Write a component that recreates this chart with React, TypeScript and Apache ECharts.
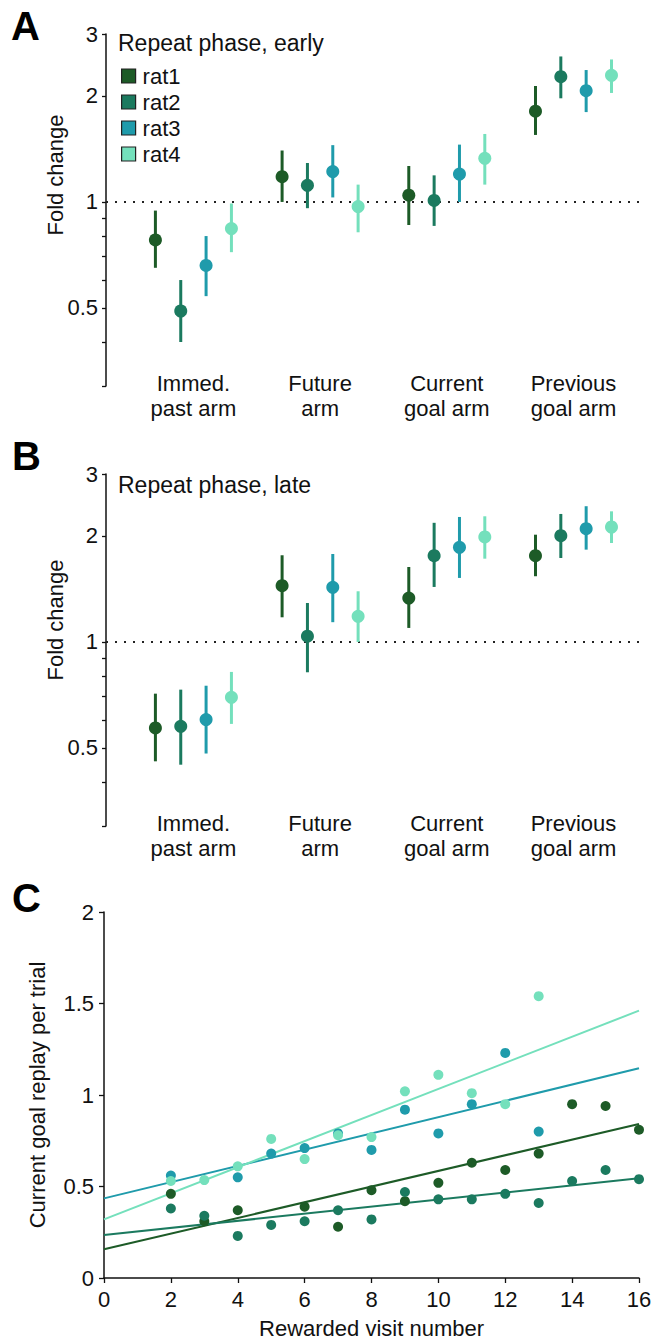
import React, { useEffect, useRef } from 'react';
import * as echarts from 'echarts';

// ---------- data ----------
const rats = ['rat1', 'rat2', 'rat3', 'rat4'];
const ratColors = ['#1d5b27', '#1b7a5f', '#1f9bab', '#74e0bc'];
const armCategories = ['Immed.\npast arm', 'Future\narm', 'Current\ngoal arm', 'Previous\ngoal arm'];
const foldMajorTicks = [0.5, 1, 2, 3];
const foldAllTicks = [0.3, 0.4, 0.5, 0.6, 0.7, 0.8, 0.9, 1, 2, 3];

// Panel A: Repeat phase, early (rows: rat1..rat4, cols: arms)
const earlyMean = [
  [0.78, 1.18, 1.045, 1.81],
  [0.49, 1.115, 1.01, 2.27],
  [0.66, 1.22, 1.2, 2.07],
  [0.84, 0.97, 1.33, 2.29],
];
const earlyLow = [
  [0.65, 1.0, 0.86, 1.55],
  [0.4, 0.96, 0.855, 1.97],
  [0.54, 1.03, 1.0, 1.8],
  [0.72, 0.82, 1.12, 2.04],
];
const earlyHigh = [
  [0.945, 1.4, 1.265, 2.135],
  [0.6, 1.29, 1.19, 2.59],
  [0.8, 1.45, 1.455, 2.37],
  [0.99, 1.12, 1.56, 2.54],
];

// Panel B: Repeat phase, late
const lateMean = [
  [0.57, 1.445, 1.333, 1.758],
  [0.576, 1.038, 1.758, 2.004],
  [0.602, 1.43, 1.857, 2.098],
  [0.696, 1.183, 1.987, 2.121],
];
const lateLow = [
  [0.458, 1.175, 1.096, 1.537],
  [0.448, 0.82, 1.433, 1.732],
  [0.482, 1.138, 1.52, 1.829],
  [0.585, 1.0, 1.724, 1.91],
];
const lateHigh = [
  [0.713, 1.763, 1.633, 2.017],
  [0.732, 1.29, 2.18, 2.31],
  [0.751, 1.778, 2.265, 2.43],
  [0.822, 1.393, 2.275, 2.35],
];

// Panel C: current goal replay per trial vs rewarded visit number
const rat1Visits = [2, 3, 4, 6, 7, 8, 9, 10, 11, 12, 13, 14, 15, 16];
const rat1Replay = [0.46, 0.31, 0.37, 0.39, 0.28, 0.48, 0.42, 0.52, 0.63, 0.59, 0.68, 0.95, 0.94, 0.81];
const rat2Visits = [2, 3, 4, 5, 6, 7, 8, 9, 10, 11, 12, 13, 14, 15, 16];
const rat2Replay = [0.38, 0.34, 0.23, 0.29, 0.31, 0.37, 0.32, 0.47, 0.43, 0.43, 0.46, 0.41, 0.53, 0.59, 0.54];
const rat3Visits = [2, 4, 5, 6, 7, 8, 9, 10, 11, 12, 13];
const rat3Replay = [0.56, 0.55, 0.68, 0.71, 0.79, 0.7, 0.92, 0.79, 0.95, 1.23, 0.8];
const rat4Visits = [2, 3, 4, 5, 6, 7, 8, 9, 10, 11, 12, 13];
const rat4Replay = [0.53, 0.535, 0.61, 0.76, 0.65, 0.78, 0.77, 1.02, 1.11, 1.01, 0.95, 1.54];
const visitsByRat = [rat1Visits, rat2Visits, rat3Visits, rat4Visits];
const replayByRat = [rat1Replay, rat2Replay, rat3Replay, rat4Replay];
const fitX = [0, 16];
const fitStart = [0.157, 0.235, 0.435, 0.32];
const fitEnd = [0.842, 0.545, 1.146, 1.461];

// ---------- layout / style ----------
const FONT = 'Liberation Sans, Arial, Helvetica, sans-serif';
const INK = '#111';
const FS = 22;
const ratOffsets = [-0.3, -0.1, 0.1, 0.3];

function foldYAxis(gridIndex: number) {
  return {
    gridIndex,
    type: 'log',
    logBase: 10,
    min: 0.3,
    max: 3,
    axisLine: { show: true, onZero: false, lineStyle: { color: INK, width: 1.5 } },
    axisTick: { show: true, length: 4, customValues: foldAllTicks, lineStyle: { color: INK, width: 1.3 } },
    minorTick: { show: false },
    splitLine: { show: false },
    axisLabel: {
      customValues: foldMajorTicks,
      formatter: (v: number) => String(v),
      fontSize: FS,
      color: INK,
      fontFamily: FONT,
      margin: 8,
    },
  };
}

function armXAxis(gridIndex: number) {
  return {
    gridIndex,
    type: 'value',
    min: -0.69,
    max: 3.525,
    axisLine: { show: false, onZero: false },
    axisTick: { show: false },
    splitLine: { show: false },
    axisLabel: {
      customValues: [0, 1, 2, 3],
      formatter: (v: number) => armCategories[Math.round(v)],
      fontSize: FS,
      lineHeight: 25,
      color: INK,
      fontFamily: FONT,
      margin: -15,
    },
  };
}

function foldSeries(idx: number, mean: number[][], low: number[][], high: number[][]) {
  const out: any[] = [];
  rats.forEach((rat, r) => {
    const pts = mean[r].map((m, a) => [a + ratOffsets[r], m]);
    const bars = mean[r].map((_m, a) => [a + ratOffsets[r], low[r][a], high[r][a]]);
    out.push({
      type: 'scatter',
      name: rat,
      xAxisIndex: idx,
      yAxisIndex: idx,
      data: pts,
      symbolSize: 13,
      itemStyle: { color: ratColors[r], opacity: 1 },
      z: 4,
      markLine:
        r === 0
          ? {
              silent: true,
              symbol: ['none', 'none'],
              label: { show: false },
              lineStyle: { color: '#222', type: [2, 7], width: 2 },
              data: [{ yAxis: 1 }],
              z: 1,
            }
          : undefined,
    });
    out.push({
      type: 'custom',
      name: rat,
      xAxisIndex: idx,
      yAxisIndex: idx,
      data: bars,
      encode: { x: 0, y: [1, 2] },
      itemStyle: { color: ratColors[r] },
      z: 3,
      renderItem: (_params: any, api: any) => {
        const x = api.value(0);
        const lo = api.coord([x, api.value(1)]);
        const hi = api.coord([x, api.value(2)]);
        return {
          type: 'line',
          shape: { x1: lo[0], y1: lo[1], x2: hi[0], y2: hi[1] },
          style: { stroke: ratColors[r], lineWidth: 3 },
        };
      },
    });
  });
  return out;
}

function replaySeries() {
  const out: any[] = [];
  rats.forEach((rat, r) => {
    out.push({
      type: 'line',
      name: rat,
      xAxisIndex: 2,
      yAxisIndex: 2,
      data: [
        [fitX[0], fitStart[r]],
        [fitX[1], fitEnd[r]],
      ],
      showSymbol: false,
      symbol: 'none',
      lineStyle: { color: ratColors[r], width: 2 },
      itemStyle: { color: ratColors[r] },
      z: 2,
    });
  });
  rats.forEach((rat, r) => {
    out.push({
      type: 'scatter',
      name: rat,
      xAxisIndex: 2,
      yAxisIndex: 2,
      data: visitsByRat[r].map((v, i) => [v, replayByRat[r][i]]),
      symbolSize: 10,
      itemStyle: { color: ratColors[r], opacity: 1 },
      z: 3,
    });
  });
  return out;
}

export default function App() {
  const ref = useRef<HTMLDivElement>(null);
  useEffect(() => {
    if (!ref.current) return;
    const chart = echarts.init(ref.current, undefined, { renderer: 'svg' });
    const option: any = {
      animation: false,
      backgroundColor: '#fff',
      textStyle: { fontFamily: FONT },
      title: [
        {
          text: 'Repeat phase, early',
          left: 118,
          top: 31,
          padding: 0,
          textStyle: { fontSize: 23, fontWeight: 'normal', color: INK, fontFamily: FONT },
        },
        {
          text: 'Repeat phase, late',
          left: 118,
          top: 473,
          padding: 0,
          textStyle: { fontSize: 23, fontWeight: 'normal', color: INK, fontFamily: FONT },
        },
      ],
      legend: {
        data: rats,
        orient: 'vertical',
        left: 121,
        top: 65,
        padding: 0,
        itemWidth: 14,
        itemHeight: 14,
        itemGap: 4,
        icon: 'rect',
        itemStyle: { borderColor: '#222', borderWidth: 1.2 },
        textStyle: { fontSize: FS, color: INK, fontFamily: FONT, padding: [0, 0, 0, 2] },
        selectedMode: false,
      },
      grid: [
        { left: 106, right: 15, top: 34, height: 352 },
        { left: 106, right: 15, top: 474, height: 352 },
        { left: 104, right: 16, top: 912, height: 366 },
      ],
      xAxis: [
        armXAxis(0),
        armXAxis(1),
        {
          gridIndex: 2,
          type: 'value',
          min: 0,
          max: 16,
          interval: 2,
          axisLine: { show: true, lineStyle: { color: INK, width: 1.5 } },
          axisTick: { show: true, length: 5, lineStyle: { color: INK, width: 1.3 } },
          splitLine: { show: false },
          axisLabel: { fontSize: FS, color: INK, fontFamily: FONT, margin: 10 },
          name: 'Rewarded visit number',
          nameLocation: 'middle',
          nameGap: 39,
          nameTextStyle: { fontSize: FS, color: INK, fontFamily: FONT },
        },
      ],
      yAxis: [
        foldYAxis(0),
        foldYAxis(1),
        {
          gridIndex: 2,
          type: 'value',
          min: 0,
          max: 2,
          interval: 0.5,
          axisLine: { show: true, lineStyle: { color: INK, width: 1.5 } },
          axisTick: { show: true, length: 5, lineStyle: { color: INK, width: 1.3 } },
          splitLine: { show: false },
          axisLabel: { fontSize: FS, color: INK, fontFamily: FONT, margin: 10 },
          name: 'Current goal replay per trial',
          nameLocation: 'middle',
          nameGap: 56,
          nameTextStyle: { fontSize: FS, color: INK, fontFamily: FONT },
        },
      ],
      graphic: [
        { type: 'text', left: 11, top: 6, style: { text: 'A', font: `bold 40px ${FONT}`, fill: '#000' } },
        { type: 'text', left: 12, top: 436, style: { text: 'B', font: `bold 40px ${FONT}`, fill: '#000' } },
        { type: 'text', left: 12, top: 878, style: { text: 'C', font: `bold 40px ${FONT}`, fill: '#000' } },
        {
          type: 'text',
          x: 55,
          y: 175,
          rotation: Math.PI / 2,
          style: { text: 'Fold change', font: `${FS}px ${FONT}`, fill: INK, textAlign: 'center', textVerticalAlign: 'middle' },
        },
        {
          type: 'text',
          x: 55,
          y: 620,
          rotation: Math.PI / 2,
          style: { text: 'Fold change', font: `${FS}px ${FONT}`, fill: INK, textAlign: 'center', textVerticalAlign: 'middle' },
        },
      ],
      series: [
        ...foldSeries(0, earlyMean, earlyLow, earlyHigh),
        ...foldSeries(1, lateMean, lateLow, lateHigh),
        ...replaySeries(),
      ],
    };
    chart.setOption(option);
    return () => chart.dispose();
  }, []);
  return <div ref={ref} style={{ position: 'absolute', left: 0, top: 0, width: 655, height: 1343 }} />;
}
